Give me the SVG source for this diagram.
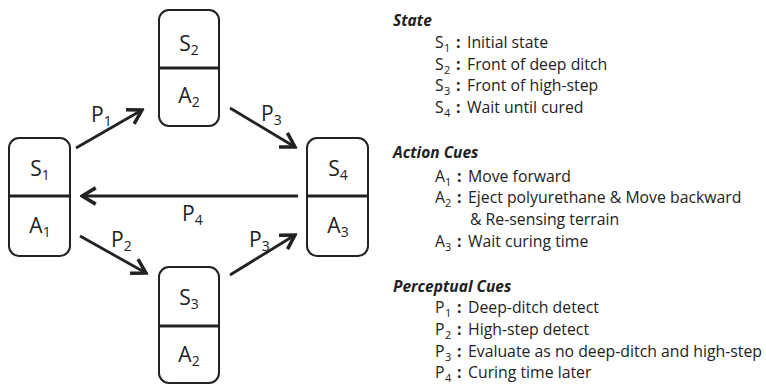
<svg xmlns="http://www.w3.org/2000/svg" width="766" height="385" viewBox="0 0 766 385">
<style>
.box{fill:#fff;stroke:#222;stroke-width:2}
.div{stroke:#222;stroke-width:3}
.nl{font-family:"Open Sans","Noto Sans",sans-serif;font-size:21px;fill:#222;text-anchor:middle}
.pl{font-family:"Open Sans","Noto Sans",sans-serif;font-size:21px;fill:#222}
.sub{font-size:14px}
.conn{stroke:#222;stroke-width:2.8;fill:none}
.hd{font-family:"Open Sans","Noto Sans",sans-serif;font-size:15.5px;font-weight:bold;font-style:italic;fill:#222}
.tx{font-family:"Open Sans","Noto Sans",sans-serif;font-size:15.8px;fill:#222}
.ts{font-size:11px}
.co{font-weight:bold}
</style>
<defs>
<marker id="ah" markerUnits="userSpaceOnUse" markerWidth="20" markerHeight="20" viewBox="-14 -8 16 16" refX="0" refY="0" orient="auto">
<path d="M-11,-6.5 L0,0 L-11,6.5" fill="none" stroke="#222" stroke-width="2.8" stroke-linejoin="miter"/>
</marker>
</defs>
<g id="connectors">
<line class="conn" x1="76" y1="148" x2="142" y2="110" marker-end="url(#ah)"/>
<line class="conn" x1="230" y1="108" x2="295" y2="147" marker-end="url(#ah)"/>
<line class="conn" x1="298" y1="196" x2="82" y2="196" marker-end="url(#ah)"/>
<line class="conn" x1="80" y1="236" x2="146" y2="273" marker-end="url(#ah)"/>
<line class="conn" x1="230" y1="275" x2="295" y2="235" marker-end="url(#ah)"/>
<text class="pl" x="91" y="122">P<tspan class="sub" dy="4">1</tspan></text>
<text class="pl" x="261" y="121">P<tspan class="sub" dy="4">3</tspan></text>
<text class="pl" x="182" y="221">P<tspan class="sub" dy="4">4</tspan></text>
<text class="pl" x="111" y="247">P<tspan class="sub" dy="4">2</tspan></text>
<text class="pl" x="249" y="247">P<tspan class="sub" dy="4">3</tspan></text>
</g>
<g id="node-s1">
<rect class="box" x="9" y="138" width="61" height="118" rx="10"/>
<line class="div" x1="9" y1="196" x2="70" y2="196"/>
<text class="nl" x="40" y="176">S<tspan class="sub" dy="4">1</tspan></text>
<text class="nl" x="40" y="233">A<tspan class="sub" dy="4">1</tspan></text>
</g>
<g id="node-s2">
<rect class="box" x="159" y="10" width="60" height="116" rx="10"/>
<line class="div" x1="159" y1="68" x2="219" y2="68"/>
<text class="nl" x="189" y="51">S<tspan class="sub" dy="4">2</tspan></text>
<text class="nl" x="189" y="103">A<tspan class="sub" dy="4">2</tspan></text>
</g>
<g id="node-s3">
<rect class="box" x="159" y="267" width="60" height="116" rx="10"/>
<line class="div" x1="159" y1="326" x2="219" y2="326"/>
<text class="nl" x="189" y="305">S<tspan class="sub" dy="4">3</tspan></text>
<text class="nl" x="189" y="362">A<tspan class="sub" dy="4">2</tspan></text>
</g>
<g id="node-s4">
<rect class="box" x="307" y="138" width="61" height="118" rx="10"/>
<line class="div" x1="307" y1="196" x2="368" y2="196"/>
<text class="nl" x="338" y="176">S<tspan class="sub" dy="4">4</tspan></text>
<text class="nl" x="338" y="233">A<tspan class="sub" dy="4">3</tspan></text>
</g>
<g id="legend">
<text class="hd" x="393" y="26">State</text>
<text class="tx" x="435" y="48">S<tspan class="ts" x="444" dy="4">1</tspan><tspan class="co" x="456" dy="-4">:</tspan><tspan x="467">Initial state</tspan></text>
<text class="tx" x="435" y="70">S<tspan class="ts" x="444" dy="4">2</tspan><tspan class="co" x="456" dy="-4">:</tspan><tspan x="467">Front of deep ditch</tspan></text>
<text class="tx" x="435" y="91">S<tspan class="ts" x="444" dy="4">3</tspan><tspan class="co" x="456" dy="-4">:</tspan><tspan x="467">Front of high-step</tspan></text>
<text class="tx" x="435" y="113">S<tspan class="ts" x="444" dy="4">4</tspan><tspan class="co" x="456" dy="-4">:</tspan><tspan x="467">Wait until cured</tspan></text>
<text class="hd" x="393" y="158">Action Cues</text>
<text class="tx" x="435" y="182">A<tspan class="ts" x="445" dy="4">1</tspan><tspan class="co" x="457" dy="-4">:</tspan><tspan x="468">Move forward</tspan></text>
<text class="tx" x="435" y="203">A<tspan class="ts" x="445" dy="4">2</tspan><tspan class="co" x="457" dy="-4">:</tspan><tspan x="468">Eject polyurethane &amp; Move backward</tspan></text>
<text class="tx" x="470" y="225">&amp; Re-sensing terrain</text>
<text class="tx" x="435" y="247">A<tspan class="ts" x="445" dy="4">3</tspan><tspan class="co" x="457" dy="-4">:</tspan><tspan x="468">Wait curing time</tspan></text>
<text class="hd" x="393" y="292">Perceptual Cues</text>
<text class="tx" x="435" y="313">P<tspan class="ts" x="445" dy="4">1</tspan><tspan class="co" x="457" dy="-4">:</tspan><tspan x="468">Deep-ditch detect</tspan></text>
<text class="tx" x="435" y="335">P<tspan class="ts" x="445" dy="4">2</tspan><tspan class="co" x="457" dy="-4">:</tspan><tspan x="468">High-step detect</tspan></text>
<text class="tx" x="435" y="357">P<tspan class="ts" x="445" dy="4">3</tspan><tspan class="co" x="457" dy="-4">:</tspan><tspan x="468">Evaluate as no deep-ditch and high-step</tspan></text>
<text class="tx" x="435" y="378">P<tspan class="ts" x="445" dy="4">4</tspan><tspan class="co" x="457" dy="-4">:</tspan><tspan x="468">Curing time later</tspan></text>
</g>
</svg>
